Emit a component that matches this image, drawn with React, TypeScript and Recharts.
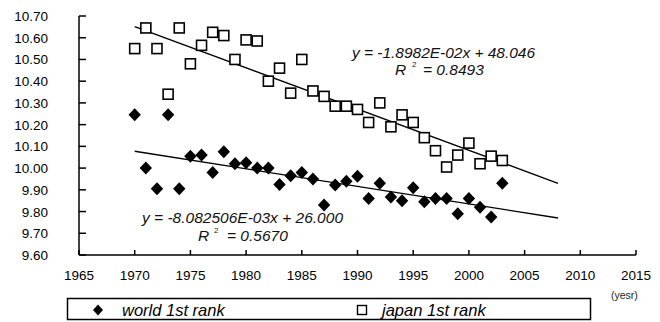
import { ScatterChart, Scatter, XAxis, YAxis } from 'recharts';

document.body.style.margin = '0';

const years = [
  1970, 1971, 1972, 1973, 1974, 1975, 1976, 1977, 1978, 1979, 1980, 1981,
  1982, 1983, 1984, 1985, 1986, 1987, 1988, 1989, 1990, 1991, 1992, 1993,
  1994, 1995, 1996, 1997, 1998, 1999, 2000, 2001, 2002, 2003,
];

const worldBest = [
  10.245, 10.0, 9.905, 10.245, 9.905, 10.055, 10.06, 9.98, 10.075, 10.02, 10.025, 10.0,
  10.0, 9.925, 9.965, 9.98, 9.95, 9.83, 9.922, 9.94, 9.963, 9.86, 9.93, 9.867,
  9.85, 9.91, 9.845, 9.86, 9.86, 9.79, 9.86, 9.82, 9.775, 9.93,
];

const japanBest = [
  10.55, 10.645, 10.55, 10.34, 10.645, 10.48, 10.565, 10.625, 10.61, 10.5, 10.59, 10.585,
  10.4, 10.46, 10.345, 10.5, 10.355, 10.33, 10.285, 10.285, 10.27, 10.21, 10.3, 10.19,
  10.245, 10.21, 10.14, 10.08, 10.005, 10.06, 10.115, 10.02, 10.055, 10.035,
];

const xTicks = [1965, 1970, 1975, 1980, 1985, 1990, 1995, 2000, 2005, 2010, 2015];
const yTicks = [9.6, 9.7, 9.8, 9.9, 10.0, 10.1, 10.2, 10.3, 10.4, 10.5, 10.6, 10.7];

// trend line coefficients (from the chart labels)
const worldFit = { slope: -8.082506e-3, intercept: 26.0 };
const japanFit = { slope: -1.8982e-2, intercept: 48.046 };
const fitRange = [1970, 2008];

const worldData = years.map((x, i) => ({ x, y: worldBest[i] }));
const japanData = years.map((x, i) => ({ x, y: japanBest[i] }));
const worldTrend = fitRange.map((x) => ({ x, y: worldFit.slope * x + worldFit.intercept }));
const japanTrend = fitRange.map((x) => ({ x, y: japanFit.slope * x + japanFit.intercept }));

const font = '"Liberation Sans", Arial, sans-serif';

const Diamond = (props: any) => {
  const { cx, cy } = props;
  return <path d={`M${cx},${cy - 6.5} L${cx + 6.2},${cy} L${cx},${cy + 6.5} L${cx - 6.2},${cy} Z`} fill="#000" />;
};

const Square = (props: any) => {
  const { cx, cy } = props;
  return <rect x={cx - 5} y={cy - 5} width={10} height={10} fill="#fff" stroke="#000" strokeWidth={1.6} />;
};

const NoDot = () => <g />;

const YTick = (props: any) => {
  const { x, y, payload } = props;
  return (
    <g>
      <line x1={x} x2={x + 7} y1={y} y2={y} stroke="#000" strokeWidth={1.5} />
      <text x={x - 31} y={y + 5} textAnchor="end" fontSize={13.5} fontFamily={font} fill="#000">
        {Number(payload.value).toFixed(2)}
      </text>
    </g>
  );
};

const XTick = (props: any) => {
  const { x, y, payload } = props;
  return (
    <g>
      <line x1={x} x2={x} y1={y} y2={y - 5} stroke="#000" strokeWidth={1.5} />
      <text x={x} y={y + 25} textAnchor="middle" fontSize={13.5} fontFamily={font} fill="#000">
        {payload.value}
      </text>
    </g>
  );
};

export default function App() {
  return (
    <div style={{ position: 'relative', width: 660, height: 322, background: '#fff' }}>
      <ScatterChart width={660} height={322} margin={{ top: 16, right: 24, left: 19, bottom: 37 }}>
        <XAxis
          type="number"
          dataKey="x"
          domain={[1965, 2015]}
          ticks={xTicks}
          height={30}
          tickSize={0}
          tickMargin={0}
          tickLine={false}
          tick={<XTick />}
          axisLine={{ stroke: '#000', strokeWidth: 1.5 }}
          interval={0}
        />
        <YAxis
          type="number"
          dataKey="y"
          domain={[9.6, 10.7]}
          ticks={yTicks}
          width={60}
          tickSize={0}
          tickMargin={0}
          tickLine={false}
          tick={<YTick />}
          axisLine={{ stroke: '#000', strokeWidth: 1.5 }}
          interval={0}
        />
        <Scatter data={worldTrend} line={{ stroke: '#000', strokeWidth: 1.3 }} shape={<NoDot />} isAnimationActive={false} />
        <Scatter data={japanTrend} line={{ stroke: '#000', strokeWidth: 1.3 }} shape={<NoDot />} isAnimationActive={false} />
        <Scatter name="world 1st rank" data={worldData} shape={<Diamond />} isAnimationActive={false} />
        <Scatter name="japan 1st rank" data={japanData} shape={<Square />} isAnimationActive={false} />
      </ScatterChart>
      <svg
        width={660}
        height={322}
        style={{ position: 'absolute', left: 0, top: 0, pointerEvents: 'none' }}
        fontFamily={font}
      >
        <g fontStyle="italic" fontSize={15.5} fill="#111">
          <text x={352} y={58} textLength={183}>y = -1.8982E-02x + 48.046</text>
          <text x={395} y={75}>R</text>
          <text x={423} y={75}>= 0.8493</text>
          <text x={142} y={223} textLength={201}>y = -8.082506E-03x + 26.000</text>
          <text x={198} y={241}>R</text>
          <text x={227} y={241}>= 0.5670</text>
        </g>
        <text x={412} y={67} fontSize={8} fill="#222">2</text>
        <text x={214} y={233} fontSize={8} fill="#222">2</text>
        <text x={611} y={299} fontSize={10.5} fill="#222">(yesr)</text>
        <rect x={67.5} y={298.5} width={523} height={21} fill="#fff" stroke="#000" strokeWidth={1.5} />
        <path d="M98,304.5 L103,310 L98,315.5 L93,310 Z" fill="#000" />
        <text x={122} y={315.5} fontSize={16.5} fontStyle="italic" fill="#000">world 1st rank</text>
        <rect x={357.5} y={305.5} width={9} height={9} fill="#fff" stroke="#000" strokeWidth={1.4} />
        <text x={382} y={315.5} fontSize={16.5} fontStyle="italic" fill="#000">japan 1st rank</text>
      </svg>
    </div>
  );
}
